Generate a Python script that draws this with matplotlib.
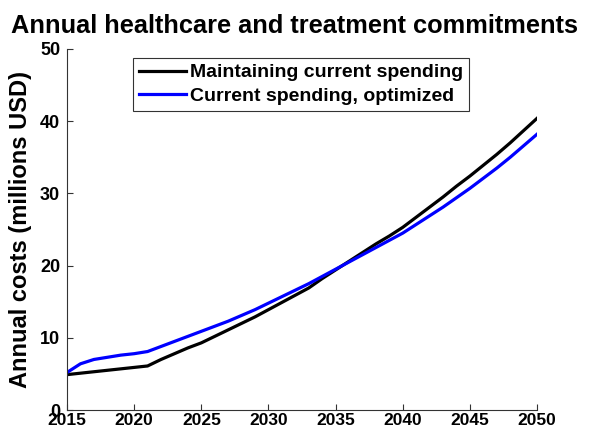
import matplotlib
matplotlib.use("Agg")
import matplotlib.pyplot as plt

years = list(range(2015, 2051))
maintaining = [4.9, 5.1, 5.3, 5.5, 5.7, 5.9, 6.1, 7.0, 7.8, 8.6, 9.3, 10.2, 11.1, 12.0, 12.9, 13.9,
               14.9, 15.9, 16.9, 18.2, 19.4, 20.6, 21.8, 23.0, 24.1, 25.3, 26.7, 28.1, 29.5, 31.0,
               32.4, 33.9, 35.4, 37.0, 38.7, 40.4]
optimized = [5.2, 6.4, 7.0, 7.3, 7.6, 7.8, 8.1, 8.8, 9.5, 10.2, 10.9, 11.6, 12.3, 13.1, 13.9, 14.8,
             15.7, 16.6, 17.5, 18.5, 19.5, 20.5, 21.5, 22.5, 23.5, 24.5, 25.7, 26.9, 28.1, 29.4,
             30.7, 32.1, 33.5, 35.0, 36.6, 38.2]
labels = ["Maintaining current spending", "Current spending, optimized"]
title = "Annual healthcare and treatment commitments"
ylabel = "Annual costs (millions USD)"
xticks = [2015, 2020, 2025, 2030, 2035, 2040, 2045, 2050]
yticks = [0, 10, 20, 30, 40, 50]

plt.rcParams['font.family'] = ['Liberation Sans', 'DejaVu Sans']
plt.rcParams['font.weight'] = 'bold'

fig = plt.figure(figsize=(5.89, 4.32), dpi=100)
ax = fig.add_axes([0.1138, 0.0509, 0.798, 0.8357])
ax.plot(years, maintaining, color='black', lw=2.3, label=labels[0])
ax.plot(years, optimized, color='#0000ff', lw=2.3, label=labels[1])
ax.set_xlim(2015, 2050)
ax.set_ylim(0, 50)
ax.set_xticks(xticks)
ax.set_yticks(yticks)
ax.tick_params(direction='in', length=4, width=0.8, labelsize=13, colors='#333333', labelcolor='black')
ax.tick_params(axis='x', pad=2.5, labelsize=12.5)
ax.tick_params(axis='y', pad=5)
for lab in ax.get_xticklabels() + ax.get_yticklabels():
    lab.set_fontweight('bold')
for s in ['top', 'right']:
    ax.spines[s].set_visible(False)
for s in ['left', 'bottom']:
    ax.spines[s].set_color('#333333')
    ax.spines[s].set_linewidth(0.8)
ax.set_ylabel(ylabel, fontsize=17, fontweight='bold', labelpad=6)
fig.text(0.5, 1 - 33 / 432, title, ha='center', va='baseline', fontsize=18.3, fontweight='bold')
leg = ax.legend(loc='upper left', bbox_to_anchor=(0.1404, 0.975), fontsize=14, frameon=True,
                fancybox=False, edgecolor='black', handlelength=2.4, borderpad=0.3,
                labelspacing=0.32, handletextpad=0.25, borderaxespad=0)
leg.get_frame().set_linewidth(0.8)
for t in leg.get_texts():
    t.set_fontweight('bold')
fig.savefig('out.png', dpi=100)
